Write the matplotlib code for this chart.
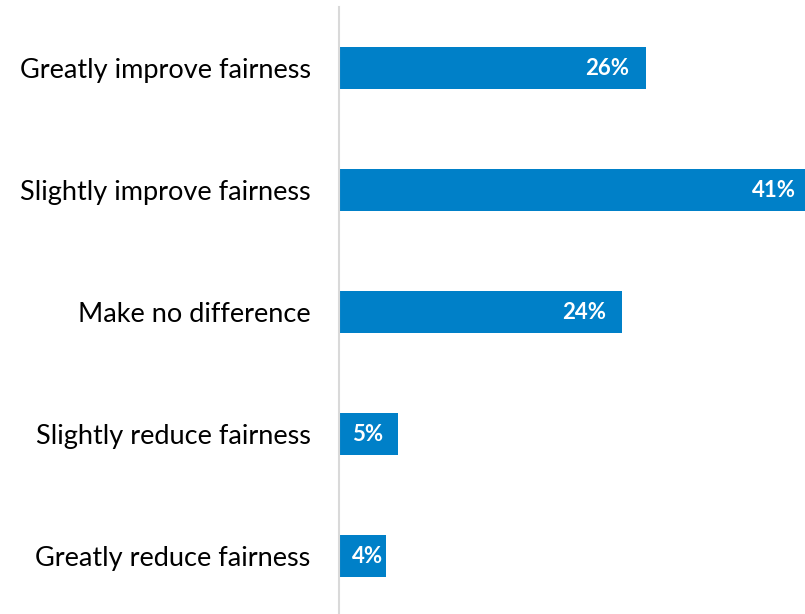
import matplotlib.pyplot as plt

categories = [
    "Greatly improve fairness",
    "Slightly improve fairness",
    "Make no difference",
    "Slightly reduce fairness",
    "Greatly reduce fairness",
]
values = [26, 41, 24, 5, 4]

BAR_COLOUR = "#0080C8"
plt.rcParams["font.family"] = ["Lato", "DejaVu Sans"]

fig = plt.figure(figsize=(8.05, 6.14), dpi=100)
ax = fig.add_axes([338.5 / 805, 0, 1 - 338.5 / 805, 1 - 7 / 614])

ypos = list(range(len(categories)))
ax.barh(ypos, values, height=0.344, color=BAR_COLOUR, edgecolor="none")

xmax = 39.5
ax.set_xlim(0, xmax)
ax.set_ylim(len(categories) - 0.525, -0.5)

# value labels: inside the bar end, kept clear of the axis and the edge
for y, v in zip(ypos, values):
    xr = min(max(v - 1.36, 3.77), xmax - 0.8)
    ax.text(xr, y, f"{v}%", ha="right", va="center", color="white",
            fontsize=16, fontweight="bold")

ax.set_yticks(ypos)
ax.set_yticklabels(categories, fontsize=19.5, color="black")
ax.tick_params(axis="y", length=0, pad=20)
ax.set_xticks([])

for side in ("top", "right", "bottom"):
    ax.spines[side].set_visible(False)
ax.spines["left"].set_color("#D9D9D9")
ax.spines["left"].set_linewidth(1.5)

fig.savefig("out.png", dpi=100)
